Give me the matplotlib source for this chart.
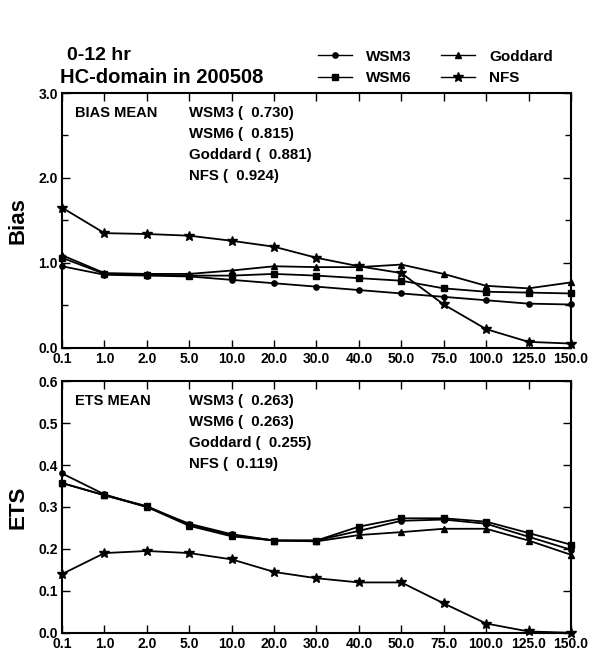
import matplotlib
matplotlib.use("Agg")
import matplotlib.pyplot as plt
from matplotlib.lines import Line2D
from matplotlib.ticker import MultipleLocator, FormatStrFormatter

plt.rcParams['font.family'] = ['Liberation Sans', 'DejaVu Sans']
plt.rcParams['font.weight'] = 'bold'

thresholds = ["0.1", "1.0", "2.0", "5.0", "10.0", "20.0", "30.0", "40.0",
              "50.0", "75.0", "100.0", "125.0", "150.0"]
models = ["WSM3", "WSM6", "Goddard", "NFS"]
markers = {"WSM3": "o", "WSM6": "s", "Goddard": "^", "NFS": "*"}

bias_wsm3 = [0.96, 0.86, 0.85, 0.84, 0.80, 0.76, 0.72, 0.68, 0.64, 0.60, 0.56, 0.52, 0.51]
bias_wsm6 = [1.06, 0.87, 0.86, 0.85, 0.85, 0.87, 0.85, 0.82, 0.79, 0.70, 0.66, 0.65, 0.64]
bias_goddard = [1.09, 0.88, 0.87, 0.87, 0.91, 0.96, 0.95, 0.95, 0.98, 0.87, 0.73, 0.70, 0.77]
bias_nfs = [1.65, 1.35, 1.34, 1.32, 1.26, 1.19, 1.06, 0.96, 0.88, 0.51, 0.22, 0.07, 0.05]
bias_mean = [0.730, 0.815, 0.881, 0.924]

ets_wsm3 = [0.38, 0.33, 0.30, 0.26, 0.235, 0.22, 0.22, 0.243, 0.267, 0.27, 0.26, 0.229, 0.198]
ets_wsm6 = [0.357, 0.328, 0.302, 0.258, 0.233, 0.22, 0.22, 0.253, 0.273, 0.273, 0.265, 0.238, 0.21]
ets_goddard = [0.357, 0.328, 0.30, 0.255, 0.23, 0.22, 0.218, 0.233, 0.24, 0.248, 0.248, 0.22, 0.186]
ets_nfs = [0.14, 0.19, 0.195, 0.19, 0.175, 0.145, 0.13, 0.12, 0.12, 0.07, 0.022, 0.003, 0.0]
ets_mean = [0.263, 0.263, 0.255, 0.119]

bias = {"WSM3": bias_wsm3, "WSM6": bias_wsm6, "Goddard": bias_goddard, "NFS": bias_nfs}
ets = {"WSM3": ets_wsm3, "WSM6": ets_wsm6, "Goddard": ets_goddard, "NFS": ets_nfs}

fig = plt.figure(figsize=(5.91, 6.55), dpi=100)
ax1 = fig.add_axes([0.105, 0.469, 0.861, 0.389])
ax2 = fig.add_axes([0.105, 0.034, 0.861, 0.384])

x = list(range(len(thresholds)))

def msize(m):
    return 7 if m == "*" else 3.8

for ax, data, ymax, major, minor, ylabel, title, means in [
        (ax1, bias, 3.0, 1.0, 0.5, "Bias", "BIAS MEAN", bias_mean),
        (ax2, ets, 0.6, 0.1, 0.1, "ETS", "ETS MEAN", ets_mean)]:
    for m in models:
        ax.plot(x, data[m], color='black', lw=1.3, marker=markers[m],
                ms=msize(markers[m]), mfc='black', mec='black', clip_on=False)
    ax.set_xlim(0, len(thresholds) - 1)
    ax.set_ylim(0, ymax)
    ax.set_xticks(x)
    ax.set_xticklabels(thresholds, fontsize=10, fontweight='bold')
    ax.yaxis.set_major_locator(MultipleLocator(major))
    ax.yaxis.set_minor_locator(MultipleLocator(minor))
    ax.yaxis.set_major_formatter(FormatStrFormatter('%.1f'))
    for lab in ax.get_yticklabels():
        lab.set_fontsize(10)
        lab.set_fontweight('bold')
    ax.tick_params(axis='both', which='both', direction='in', top=True, right=True,
                   width=1.0)
    ax.tick_params(axis='both', which='major', length=6, pad=3)
    ax.tick_params(axis='y', which='minor', length=4)
    ax.tick_params(axis='x', which='major', pad=3)
    for s in ax.spines.values():
        s.set_linewidth(1.5)
    ax.set_ylabel(ylabel, fontsize=16, fontweight='bold', labelpad=7)
    h = 255 if ax is ax1 else 252
    y0 = 1 - 20 / h
    dy = 21 / h
    ax.text(0.025, y0, title, transform=ax.transAxes, fontsize=10.5,
            fontweight='bold', va='center', ha='left')
    for i, (m, v) in enumerate(zip(models, means)):
        ax.text(0.25, y0 - i * dy, f"{m} (  {v:.3f})", transform=ax.transAxes,
                fontsize=10.8, fontweight='bold', va='center', ha='left')

fig.text(0.113, 0.916, "0-12 hr", fontsize=14, fontweight='bold', va='center')
fig.text(0.102, 0.881, "HC-domain in 200508", fontsize=14.5, fontweight='bold', va='center')

handles = [Line2D([0], [0], color='black', lw=1.0, marker=markers[m],
                  ms=msize(markers[m]), mfc='black', mec='black') for m in models]
fig.legend(handles, models, ncol=2, loc='center left',
           bbox_to_anchor=(0.515, 0.897), frameon=False,
           handlelength=2.2, columnspacing=1.9, labelspacing=0.5,
           handletextpad=0.95, prop={'weight': 'bold', 'size': 11})

fig.savefig("out.png", dpi=100)
